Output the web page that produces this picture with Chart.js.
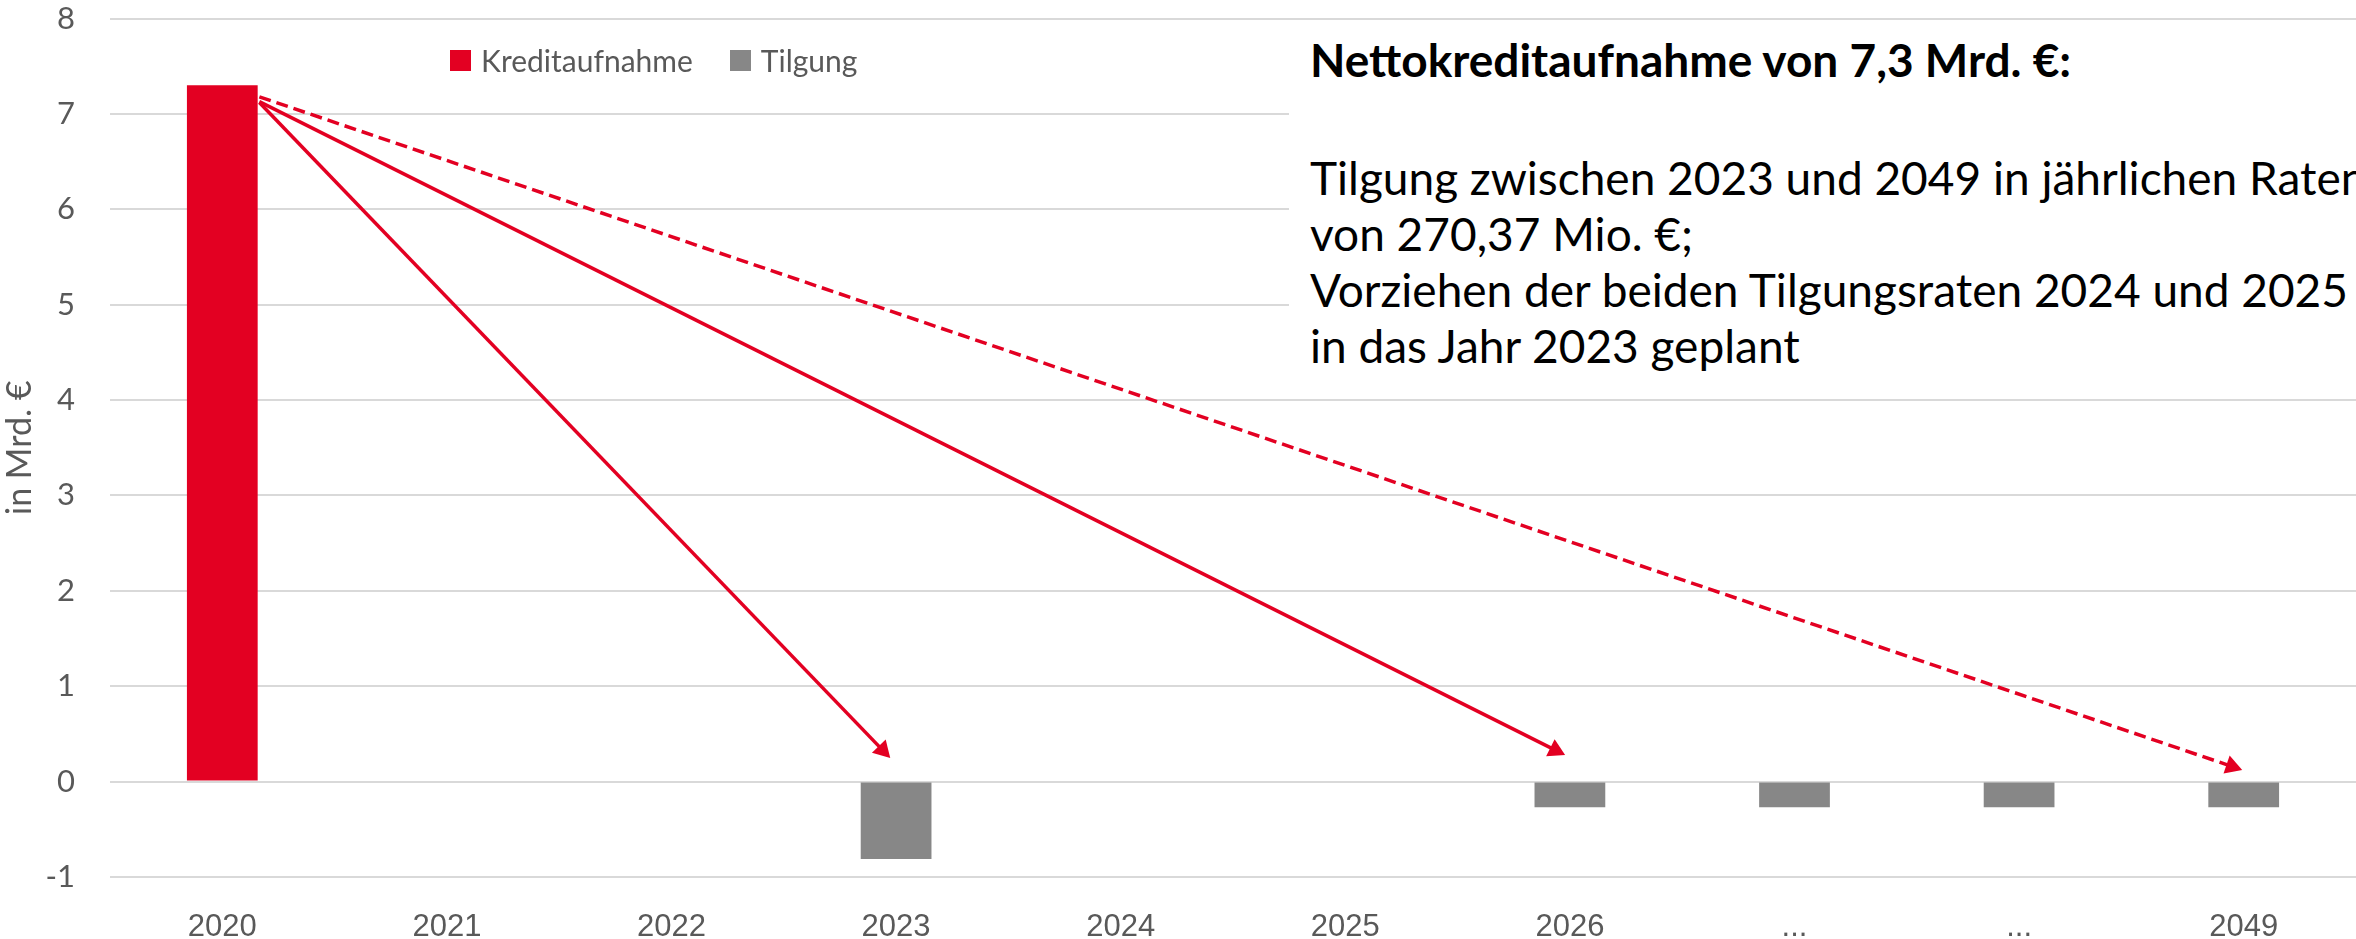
<!DOCTYPE html>
<html>
<head>
<meta charset="utf-8">
<script src="https://cdn.jsdelivr.net/npm/chart.js@4/dist/chart.umd.min.js"></script>
<style>
  html, body { margin: 0; padding: 0; background: #fff; overflow: hidden; }
  #wrap { position: relative; width: 2356px; height: 939px; }
  canvas { display: block; }
  #legend { position: absolute; left: 450px; top: 45px; height: 30px; font-family: Lato, sans-serif; font-size: 30px; color: #595959; display: flex; align-items: center; }
  #legend span.box { display: inline-block; width: 21px; height: 21px; margin-right: 10px; }
  #legend span.item { display: flex; align-items: center; margin-right: 37px; }
  #box { position: absolute; left: 1289px; top: 38px; width: 1067px; height: 348px; background: #fff; overflow: hidden; }
  #title { position: absolute; left: 21px; top: -3px; font-family: Lato, sans-serif; font-weight: bold; font-size: 46px; line-height: 50px; color: #000; white-space: nowrap; }
  #body { position: absolute; left: 21px; top: 112px; font-family: Lato, sans-serif; font-size: 46px; line-height: 56px; color: #000; white-space: nowrap; }
</style>
</head>
<body>
<div id="wrap">
  <canvas id="chart" width="2356" height="939"></canvas>
  <div id="legend"></div>
  <div id="box"><div id="title"></div><div id="body"></div></div>
</div>
<script>
const categories = ['2020', '2021', '2022', '2023', '2024', '2025', '2026', '...', '...', '2049'];
const kreditaufnahme = [7.3, null, null, null, null, null, null, null, null, null];
const tilgung = [null, null, null, -0.81, null, null, -0.27, -0.27, -0.27, -0.27];
const seriesNames = ['Kreditaufnahme', 'Tilgung'];
const yTicks = [-1, 0, 1, 2, 3, 4, 5, 6, 7, 8];
// arrows from the 2020 bar to the repayment years (category position, value)
const arrowFrom = [[0.165, 7.12], [0.165, 7.13], [0.165, 7.18]];
const arrowTo = [[2.94, 0.33], [5.935, 0.33], [8.947, 0.16]];
const arrowDashed = [false, false, true];
const noteTitle = 'Nettokreditaufnahme von 7,3 Mrd. €:';
const noteLines = ['Tilgung zwischen 2023 und 2049 in jährlichen Raten', 'von 270,37 Mio. €;', 'Vorziehen der beiden Tilgungsraten 2024 und 2025', 'in das Jahr 2023 geplant'];

const red = '#e30022';
const gray = '#878787';
const txt = '#595959';

const legend = document.getElementById('legend');
[red, gray].forEach((c, i) => {
  const it = document.createElement('span');
  it.className = 'item';
  it.innerHTML = '<span class="box" style="background:' + c + '"></span>' + seriesNames[i];
  legend.appendChild(it);
});
document.getElementById('title').textContent = noteTitle;
document.getElementById('body').innerHTML = noteLines.join('<br>');

// turn the arrow head so it points along the line
const rotation = (ctx) => {
  const chart = ctx.chart;
  const x = chart.scales.x2, y = chart.scales.y;
  const d = ctx.dataset.data;
  if (!x || !y || !d) return 0;
  const dx = x.getPixelForValue(d[1].x) - x.getPixelForValue(d[0].x);
  const dy = y.getPixelForValue(d[1].y) - y.getPixelForValue(d[0].y);
  return Math.atan2(dx, -dy) * 180 / Math.PI;
};

const arrowSets = arrowFrom.map((p, i) => ({
  type: 'line',
  xAxisID: 'x2',
  data: [{ x: p[0], y: p[1] }, { x: arrowTo[i][0], y: arrowTo[i][1] }],
  borderColor: red,
  backgroundColor: red,
  borderWidth: 3.5,
  borderDash: arrowDashed[i] ? [12, 6] : [],
  pointRadius: [0, 11],
  pointHoverRadius: 0,
  pointStyle: 'triangle',
  pointRotation: rotation,
  pointBorderWidth: 0,
  order: 0
}));

new Chart(document.getElementById('chart').getContext('2d'), {
  type: 'bar',
  data: {
    labels: categories,
    datasets: [
      { label: seriesNames[0], data: kreditaufnahme, backgroundColor: red, grouped: false, barPercentage: 0.315, categoryPercentage: 1, order: 1 },
      { label: seriesNames[1], data: tilgung, backgroundColor: gray, grouped: false, barPercentage: 0.315, categoryPercentage: 1, order: 1 },
      ...arrowSets
    ]
  },
  options: {
    responsive: false,
    animation: false,
    events: [],
    layout: { autoPadding: false, padding: 0 },
    plugins: { legend: { display: false }, tooltip: { enabled: false } },
    scales: {
      x: {
        grid: { display: false },
        border: { display: false },
        afterFit: (s) => { s.height = 62; },
        ticks: { color: txt, font: { family: '"Liberation Sans", Arial, sans-serif', size: 31 }, padding: 24, maxRotation: 0 }
      },
      x2: { type: 'linear', min: -0.5, max: 9.5, offset: false, display: false },
      y: {
        min: -1,
        max: 8,
        afterBuildTicks: (s) => { s.ticks = yTicks.map(v => ({ value: v })); },
        afterFit: (s) => { s.width = 110; },
        grid: { color: '#d9d9d9', lineWidth: 2, drawTicks: true, tickLength: 35, tickColor: 'rgba(0,0,0,0)' },
        border: { display: false },
        ticks: { color: txt, font: { family: 'Lato, sans-serif', size: 31 }, padding: 0 },
        title: { display: true, text: 'in Mrd. €', color: txt, font: { family: 'Lato, sans-serif', size: 34 }, padding: 0 }
      }
    }
  }
});
</script>
</body>
</html>
